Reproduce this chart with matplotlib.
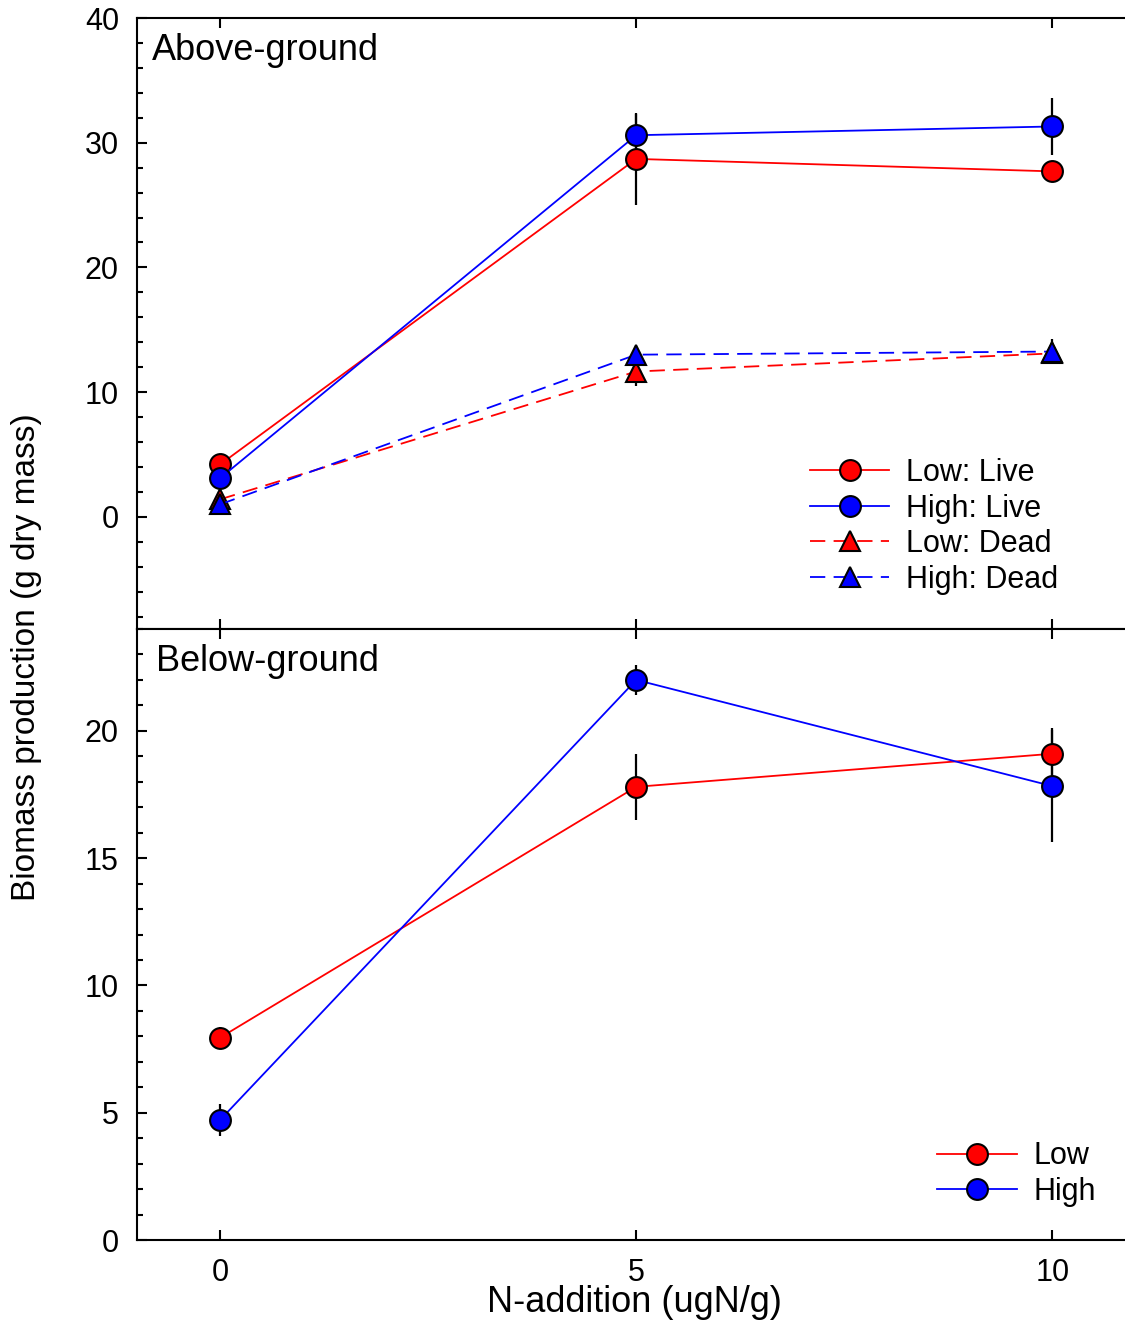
import matplotlib
matplotlib.use('Agg')
from matplotlib import pyplot as plt
from matplotlib.ticker import MultipleLocator

plt.rcParams['font.family'] = ['Liberation Sans', 'DejaVu Sans']
plt.rcParams['lines.scale_dashes'] = False

# N addition levels
n_add = [0, 5, 10]

# above-ground biomass
low_live = [4.2, 28.7, 27.7]
low_live_err = [0.3, 3.7, 0.4]
high_live = [3.1, 30.6, 31.3]
high_live_err = [0.3, 1.7, 2.25]
low_dead = [1.4, 11.65, 13.1]
low_dead_err = [0.3, 1.2, 0.4]
high_dead = [1.0, 13.0, 13.25]
high_dead_err = [0.3, 0.4, 1.0]

# below-ground biomass
low_below = [7.95, 17.8, 19.1]
low_below_err = [0.43, 1.3, 1.0]
high_below = [4.72, 22.0, 17.83]
high_below_err = [0.63, 0.6, 2.2]

W, H = 1125, 1321
fig = plt.figure(figsize=(W / 100, H / 100), dpi=100)

left = 137 / W
width = (1131 - 137) / W
ax1 = fig.add_axes([left, (H - 629) / H, width, (629 - 18) / H])
ax2 = fig.add_axes([left, (H - 1240) / H, width, (1240 - 629) / H])

def series(ax, y, err, color, marker, dashed=False, label=None):
    ax.errorbar(n_add, y, yerr=err, fmt='none', ecolor='black', elinewidth=1.6, capsize=0, zorder=2)
    ls = (0, (11, 6)) if dashed else '-'
    ax.plot(n_add, y, color=color, linestyle=ls, linewidth=1.3, marker=marker,
            markersize=15 if marker == 'o' else 14, markerfacecolor=color,
            markeredgecolor='black', markeredgewidth=1.5, label=label, zorder=3)

series(ax1, low_live, low_live_err, 'red', 'o', label='Low: Live')
series(ax1, high_live, high_live_err, 'blue', 'o', label='High: Live')
series(ax1, low_dead, low_dead_err, 'red', '^', dashed=True, label='Low: Dead')
series(ax1, high_dead, high_dead_err, 'blue', '^', dashed=True, label='High: Dead')

series(ax2, low_below, low_below_err, 'red', 'o', label='Low')
series(ax2, high_below, high_below_err, 'blue', 'o', label='High')

xmax = -1 + (1131 - 137) / 83.2
for ax in (ax1, ax2):
    ax.set_xlim(-1, xmax)
    ax.set_xticks(n_add)
    for s in ax.spines.values():
        s.set_linewidth(1.5)
    ax.tick_params(axis='both', which='major', direction='in', length=7, width=1.5,
                   labelsize=22, pad=13, top=True, bottom=True)
    ax.tick_params(axis='y', which='minor', direction='in', length=4, width=1.5)

ax1.set_ylim(-9, 40)
ax1.set_yticks([0, 10, 20, 30, 40])
ax1.yaxis.set_minor_locator(MultipleLocator(2))
ax1.tick_params(axis='x', labelbottom=False)

ax2.set_ylim(0, 24)
ax2.set_yticks([0, 5, 10, 15, 20])
ax2.yaxis.set_minor_locator(MultipleLocator(1))

ax1.text(0.015, 0.975, 'Above-ground', transform=ax1.transAxes, fontsize=26, va='top', ha='left')
ax2.text(0.019, 0.975, 'Below-ground', transform=ax2.transAxes, fontsize=26, va='top', ha='left')

leg_kw = dict(frameon=False, fontsize=22, handlelength=2.6, handletextpad=0.55,
              labelspacing=0.18, borderpad=0, borderaxespad=0, loc='center left')
ax1.legend(bbox_to_anchor=(0.677, 0.168), **leg_kw)
ax2.legend(bbox_to_anchor=(0.805, 0.108), **leg_kw)

ax2.set_xlabel('N-addition (ugN/g)', fontsize=26, labelpad=-2)
fig.text(27 / W, (H - 657) / H, 'Biomass production (g dry mass)', rotation=90,
         fontsize=24, ha='center', va='center')

fig.savefig('out.png', dpi=100)
